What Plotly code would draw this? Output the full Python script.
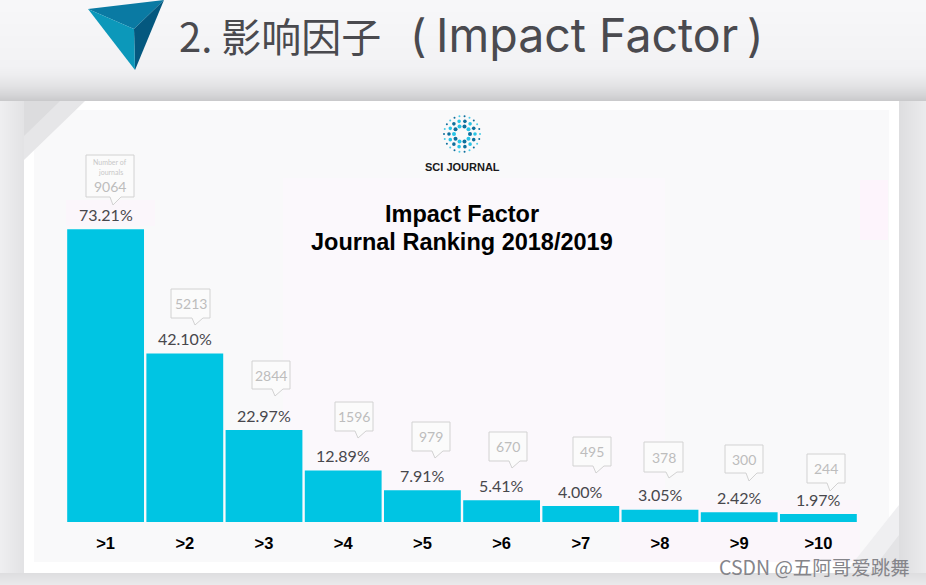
import math
import plotly.graph_objects as go

W, H = 926, 585

categories = ['>1', '>2', '>3', '>4', '>5', '>6', '>7', '>8', '>9', '>10']
shares = [73.21, 42.10, 22.97, 12.89, 7.91, 5.41, 4.00, 3.05, 2.42, 1.97]
share_labels = ['73.21%', '42.10%', '22.97%', '12.89%', '7.91%', '5.41%', '4.00%', '3.05%', '2.42%', '1.97%']
journals = [9064, 5213, 2844, 1596, 979, 670, 495, 378, 300, 244]

# callout boxes, page pixels: left, right, top, bottom, tail tip x, tail tip y
box_left = [86, 171, 252, 335, 412, 489, 573, 644, 725, 807]
box_right = [134, 210, 290, 373, 450, 527, 611, 683, 763, 845]
box_top = [155, 289, 361, 402, 422, 432, 437, 442, 445, 454]
box_bottom = [197, 318, 389, 431, 451, 461, 466, 472, 473, 483]
tip_x = [113, 195, 275, 358, 435, 512, 596, 669, 749, 830]
tip_y = [205, 325, 396, 438, 458, 468, 473, 478, 481, 491]


def fx(x):
    return x / W


def fy(y):
    return 1 - y / H


def rect(x0, y0, x1, y1, color, opacity=1):
    return dict(type='rect', xref='paper', yref='paper', x0=fx(x0), x1=fx(x1), y0=fy(y0), y1=fy(y1),
                fillcolor=color, opacity=opacity, line_width=0, layer='below')


def poly(points, color, opacity=1):
    d = 'M ' + ' L '.join(f'{fx(a):.5f},{fy(b):.5f}' for a, b in points) + ' Z'
    return dict(type='path', xref='paper', yref='paper', path=d, fillcolor=color, opacity=opacity,
                line_width=0, layer='below')


def dot(x, y, r, color):
    return dict(type='circle', xref='paper', yref='paper', x0=fx(x - r), x1=fx(x + r), y0=fy(y + r), y1=fy(y - r),
                fillcolor=color, line_width=0, layer='below')


def grey(v):
    return f'rgb({v},{v},{v + 2})'


shapes = []

# page background, soft bands getting darker towards the card
for i in range(30):
    shapes.append(rect(0, i * 2, W, i * 2 + 2, grey(247 - i // 6)))
for i in range(41):
    shapes.append(rect(0, 60 + i, W, 61 + i, grey(242 - i * i // 40)))
for i in range(24):
    shapes.append(rect(i, 101, i + 1, H, grey(238 - i // 2)))
for i in range(27):
    shapes.append(rect(899 + i, 101, 900 + i, H, grey(222 + i // 2)))
for i in range(12):
    shapes.append(rect(0, 573 + i, W, 574 + i, grey(222 + i)))

# header triangle
shapes.append(poly([(88, 9), (164, 0), (134, 29)], '#0a7aa3'))
shapes.append(poly([(164, 0), (134, 29), (135, 70)], '#04587f'))
shapes.append(poly([(88, 9), (134, 29), (135, 70)], '#0c98ba'))

# card
shapes.append(rect(24, 101, 899, 573, '#ffffff'))
shapes.append(rect(34, 110, 889, 562, '#f9f9fa'))
shapes.append(rect(283, 178, 665, 520, '#fbf8fc'))
shapes.append(rect(66, 200, 155, 226, '#fbf6fb'))
shapes.append(rect(620, 500, 860, 562, '#fbf6fb'))
shapes.append(rect(860, 180, 888, 240, '#fdf4fc'))
shapes.append(poly([(24, 101), (85, 101), (24, 160)], '#e6e6e8'))
shapes.append(poly([(24, 101), (60, 101), (24, 136)], '#dcdcde'))
shapes.append(poly([(899, 573), (899, 505), (845, 573)], '#efeff1'))
shapes.append(poly([(899, 573), (899, 535), (870, 573)], '#e4e4e6'))

# logo
logo_x, logo_y = 462, 134
for radius, count, size, colors in [(8, 10, 2.0, ['#0d6f9c', '#27c4e6']),
                                    (13, 14, 1.8, ['#27c4e6', '#0d6f9c']),
                                    (18, 22, 1.0, ['#49cbe6', '#0d6f9c'])]:
    for i in range(count):
        a = 2 * math.pi * i / count
        shapes.append(dot(logo_x + radius * math.cos(a), logo_y + radius * math.sin(a), size, colors[i % 2]))

# callouts
for i in range(len(categories)):
    l, r, t, b = box_left[i], box_right[i], box_top[i], box_bottom[i]
    pts = [(l, t), (r, t), (r, b), (tip_x[i] + 8, b), (tip_x[i], tip_y[i]), (tip_x[i] - 3, b), (l, b)]
    s = poly(pts, '#fbfbfb')
    s['line'] = dict(color='#d2d2d2', width=1)
    s.pop('line_width')
    s['layer'] = 'above'
    shapes.append(s)


def note(x, y, text, size, color='#000000', family='Liberation Sans', weight=None, xanchor='center'):
    f = dict(size=size, color=color, family=family)
    if weight:
        f['weight'] = weight
    return dict(xref='paper', yref='paper', x=fx(x), y=fy(y), text=text, showarrow=False,
                xanchor=xanchor, yanchor='middle', font=f)


annotations = [
    note(177, 35, '2. 影响因子', 40, '#4a4a4f', 'Noto Sans CJK SC', xanchor='left'),
    note(418, 35, '(', 45, '#4a4a4f', 'Inter'),
    note(434, 35, 'Impact Factor', 46.5, '#4a4a4f', 'Inter', xanchor='left'),
    note(755, 35, ')', 45, '#4a4a4f', 'Inter'),
    note(462, 167, 'SCI JOURNAL', 11, '#1a1a1a', weight=700),
    note(462, 214, 'Impact Factor', 23.5, weight=700),
    note(462, 242, 'Journal Ranking 2018/2019', 23.5, weight=700),
    note(912, 566, 'CSDN @五阿哥爱跳舞', 19.5, '#85858a', 'Noto Sans CJK SC', xanchor='right'),
    note(110, 162, 'Number of', 7, '#c8c8c8', 'Lato'),
    note(110, 172, 'journals', 7, '#c8c8c8', 'Lato'),
]
for i, n in enumerate(journals):
    y = box_top[i] + 32 if i == 0 else (box_top[i] + box_bottom[i]) / 2
    annotations.append(note((box_left[i] + box_right[i]) / 2, y, str(n), 14, '#bdbdbd', 'Lato'))

# percentage labels sit on the bars
for cat, val, lab in zip(categories, shares, share_labels):
    annotations.append(dict(x=cat, y=val, text=lab, showarrow=False, yanchor='middle', yshift=15,
                            font=dict(family='Lato', size=16, color='#47474c')))

fig = go.Figure(go.Bar(
    x=categories, y=shares,
    marker=dict(color='#00c5e3', line_width=0),
))

fig.update_layout(
    width=W, height=H,
    margin=dict(l=0, r=0, t=0, b=0),
    paper_bgcolor='#eeeef0', plot_bgcolor='rgba(0,0,0,0)',
    showlegend=False, bargap=0.03,
    shapes=shapes, annotations=annotations,
    xaxis=dict(domain=[66 / W, 858 / W], showgrid=False, showline=False, zeroline=False,
               ticks='outside', ticklen=6, tickcolor='rgba(0,0,0,0)',
               tickfont=dict(family='Liberation Sans', size=16.5, color='#000000', weight=700)),
    yaxis=dict(domain=[1 - 522 / H, 1 - 100 / H], range=[0, 105.5], visible=False),
)

fig.write_html('out.html', config=dict(displayModeBar=False), post_script="document.body.style.margin='0';")
